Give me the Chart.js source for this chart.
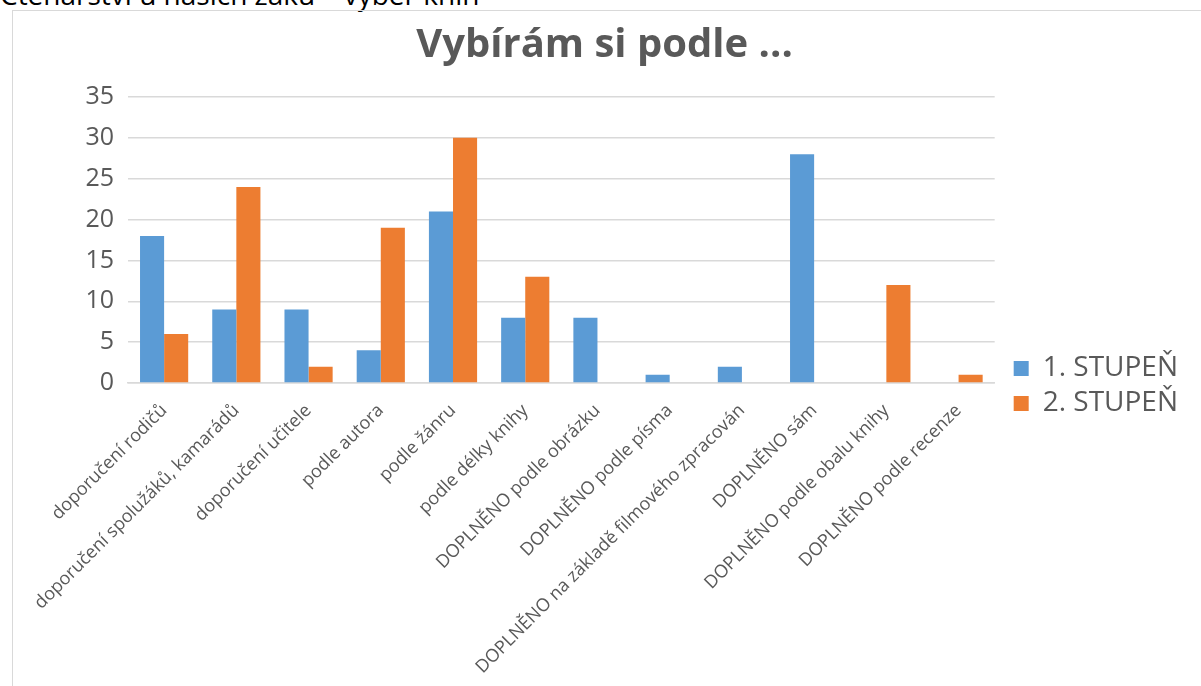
<!DOCTYPE html>
<html>
<head>
<meta charset="utf-8">
<script src="https://cdn.jsdelivr.net/npm/chart.js@4/dist/chart.umd.min.js"></script>
<style>
  html, body { margin: 0; padding: 0; background: #fff; overflow: hidden; width: 1201px; height: 686px; }
  #topline { position: absolute; left: 0; top: -25px; font-family: "Open Sans", sans-serif; font-size: 28px; line-height: 38px; color: #000; white-space: nowrap; }
  #frame { position: absolute; left: 12px; top: 10px; width: 1200px; height: 700px; border: 1px solid #d9d9d9; box-sizing: border-box; }
  #wrap { position: absolute; left: 13px; top: 11px; width: 1163px; height: 720px; }
</style>
</head>
<body>
<div id="topline">Čtenářství u našich žáků – výběr knih</div>
<div id="frame"></div>
<div id="wrap"><canvas id="c" width="1163" height="720"></canvas></div>
<script>
const categories = [
  "doporučení rodičů",
  "doporučení spolužáků, kamarádů",
  "doporučení učitele",
  "podle autora",
  "podle žánru",
  "podle délky knihy",
  "DOPLNĚNO podle obrázku",
  "DOPLNĚNO podle písma",
  "DOPLNĚNO na základě filmového zpracován",
  "DOPLNĚNO sám",
  "DOPLNĚNO podle obalu knihy",
  "DOPLNĚNO podle recenze"
];
const stupen1 = [18, 9, 9, 4, 21, 8, 8, 1, 2, 28, 0, 0];
const stupen2 = [6, 24, 2, 19, 30, 13, 0, 0, 0, 0, 12, 1];
const seriesNames = ["1. STUPEŇ", "2. STUPEŇ"];
const yTicks = [0, 5, 10, 15, 20, 25, 30, 35];

const grey = "#595959";
const font = "'Open Sans', sans-serif";

const nudge = {
  id: "nudge",
  afterLayout(chart) {
    const L = chart.legend;
    const dx = 12, dy = 15;
    L.left += dx; L.right += dx; L.top += dy; L.bottom += dy;
    const T = chart.titleBlock;
    const tdx = 10;
    T.left += tdx; T.right += tdx;
  }
};

new Chart(document.getElementById("c"), {
  type: "bar",
  data: {
    labels: categories,
    datasets: [
      { label: seriesNames[0], data: stupen1, backgroundColor: "#5B9BD5", borderWidth: 0 },
      { label: seriesNames[1], data: stupen2, backgroundColor: "#ED7D31", borderWidth: 0 }
    ]
  },
  plugins: [nudge],
  options: {
    responsive: false,
    animation: false,
    devicePixelRatio: 1,
    layout: { padding: 0 },
    datasets: { bar: { barPercentage: 1, categoryPercentage: 0.667 } },
    plugins: {
      title: {
        display: true,
        text: "Vybírám si podle ...",
        color: grey,
        font: { family: font, size: 40, weight: "bold" },
        padding: { top: 11, bottom: 27 }
      },
      legend: {
        display: true,
        position: "right",
        align: "center",
        labels: {
          color: grey,
          font: { family: font, size: 28 },
          boxWidth: 15,
          boxHeight: 15,
          padding: 7
        }
      },
      tooltip: { enabled: false }
    },
    scales: {
      x: {
        grid: { display: false, drawTicks: false },
        border: { display: true, color: "#d9d9d9", width: 1.5 },
        ticks: {
          color: grey,
          font: { family: font, size: 18 },
          minRotation: 45,
          maxRotation: 45,
          autoSkip: false,
          padding: 17
        },
        afterFit: (s) => { s.height = 720 - 372; }
      },
      y: {
        min: 0,
        max: 35,
        afterBuildTicks: (s) => { s.ticks = yTicks.map(v => ({ value: v })); },
        grid: { color: "#d9d9d9", lineWidth: 1.5, drawTicks: false },
        border: { display: false },
        ticks: {
          color: grey,
          font: { family: font, size: 25 },
          padding: 14
        },
        afterFit: (s) => { s.width = 115; }
      }
    }
  }
});
</script>
</body>
</html>
